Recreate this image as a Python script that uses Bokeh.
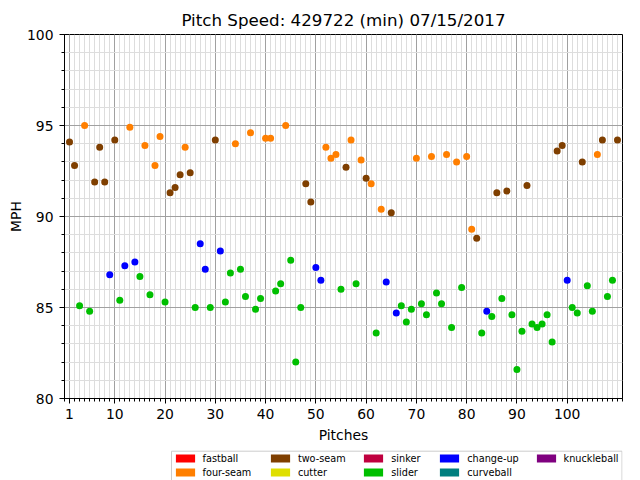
from bokeh.plotting import figure
from bokeh.models import Range1d, FixedTicker, Legend, LegendItem, BoxAnnotation
from bokeh.layouts import column
from bokeh.embed import file_html
from bokeh.resources import INLINE

# ---- data ----
two_seam_x = [1, 2, 6, 7, 8, 10, 21, 22, 23, 25, 30, 48, 49, 56, 60, 65, 82, 86, 88, 92, 98, 99, 103, 107, 110]
two_seam_y = [94.1, 92.8, 91.9, 93.8, 91.9, 94.2, 91.3, 91.6, 92.3, 92.4, 94.2, 91.8, 90.8, 92.7, 92.1, 90.2,
              88.8, 91.3, 91.4, 91.7, 93.6, 93.9, 93.0, 94.2, 94.2]

four_seam_x = [4, 13, 16, 18, 19, 24, 34, 37, 40, 41, 44, 52, 53, 54, 57, 59, 61, 63, 70, 73, 76, 78, 80, 81, 106]
four_seam_y = [95.0, 94.9, 93.9, 92.8, 94.4, 93.8, 94.0, 94.6, 94.3, 94.3, 95.0, 93.8, 93.2, 93.4, 94.2, 93.1,
               91.8, 90.4, 93.2, 93.3, 93.4, 93.0, 93.3, 89.3, 93.4]

change_up_x = [9, 12, 14, 27, 28, 31, 50, 51, 64, 66, 84, 100]
change_up_y = [86.8, 87.3, 87.5, 88.5, 87.1, 88.1, 87.2, 86.5, 86.4, 84.7, 84.8, 86.5]

slider_x = [3, 5, 11, 15, 17, 20, 26, 29, 32, 33, 35, 36, 38, 39, 42, 43, 45, 46, 47, 55, 58, 62, 67, 68, 69,
            71, 72, 74, 75, 77, 79, 83, 85, 87, 89, 90, 91, 93, 94, 95, 96, 97, 101, 102, 104, 105, 108, 109]
slider_y = [85.1, 84.8, 85.4, 86.7, 85.7, 85.3, 85.0, 85.0, 85.3, 86.9, 87.1, 85.6, 84.9, 85.5, 85.9, 86.3,
            87.6, 82.0, 85.0, 86.0, 86.3, 83.6, 85.1, 84.2, 84.9, 85.2, 84.6, 85.8, 85.2, 83.9, 86.1, 83.6,
            84.5, 85.5, 84.6, 81.6, 83.7, 84.1, 83.9, 84.1, 84.6, 83.1, 85.0, 84.7, 86.2, 84.8, 85.6, 86.5]

legend_names = ["fastball", "four-seam", "two-seam", "cutter", "sinker", "slider",
                "change-up", "curveball", "knuckleball"]
legend_colors = ["#ff0000", "#ff7f00", "#7f3f00", "#dfdf00", "#bf003f", "#00bf00",
                 "#0000ff", "#007f7f", "#7f007f"]

x_ticks = [1, 10, 20, 30, 40, 50, 60, 70, 80, 90, 100]
x_minor = list(range(0, 112))
y_ticks = [80, 85, 90, 95, 100]
y_minor = list(range(80, 101))

FONT = "DejaVu Sans"

p = figure(width=640, height=448, output_backend="svg", toolbar_location=None,
           x_range=Range1d(0, 111), y_range=Range1d(80, 100),
           title="Pitch Speed: 429722 (min) 07/15/2017",
           min_border_left=64, min_border_right=18, min_border_top=34, min_border_bottom=50)

p.title.align = "center"
p.title.text_font = FONT
p.title.text_font_size = "16.7px"
p.title.text_font_style = "normal"
p.title.text_color = "#000000"
p.title.standoff = 9

p.outline_line_color = "#000000"
p.outline_line_alpha = 1
p.outline_line_width = 1

p.xaxis.ticker = FixedTicker(ticks=x_ticks, minor_ticks=x_minor)
p.yaxis.ticker = FixedTicker(ticks=y_ticks, minor_ticks=y_minor)

for ax in (p.xaxis, p.yaxis):
    ax.axis_line_color = "#000000"
    ax.major_tick_line_color = "#000000"
    ax.minor_tick_line_color = "#000000"
    ax.major_tick_in = 0
    ax.major_tick_out = 5
    ax.minor_tick_in = 0
    ax.minor_tick_out = 3
    ax.major_label_text_font = FONT
    ax.major_label_text_font_size = "13.9px"
    ax.major_label_text_color = "#000000"
    ax.axis_label_text_font = FONT
    ax.axis_label_text_font_size = "13.9px"
    ax.axis_label_text_font_style = "normal"
    ax.axis_label_text_color = "#000000"

p.xaxis.axis_label = "Pitches"
p.yaxis.axis_label = "MPH"
p.xaxis.major_label_standoff = 5
p.yaxis.major_label_standoff = 6
p.xaxis.axis_label_standoff = 5
p.yaxis.axis_label_standoff = 0

for g in (p.xgrid, p.ygrid):
    g.grid_line_color = "#a0a0a0"
    g.grid_line_width = 1
    g.minor_grid_line_color = "#dddddd"
    g.minor_grid_line_width = 1
    g.level = "underlay"

sz = 7
p.scatter(two_seam_x, two_seam_y, size=sz, fill_color="#7f3f00", line_color=None)
p.scatter(four_seam_x, four_seam_y, size=sz, fill_color="#ff7f00", line_color=None)
p.scatter(change_up_x, change_up_y, size=sz, fill_color="#0000ff", line_color=None)
p.scatter(slider_x, slider_y, size=sz, fill_color="#00bf00", line_color=None)

# ---- legend strip below the plot (its data coordinates equal page pixels) ----
lf = figure(width=640, height=32, output_backend="svg", toolbar_location=None,
            x_range=Range1d(64, 622), y_range=Range1d(480, 448),
            x_axis_type=None, y_axis_type=None,
            min_border_left=64, min_border_right=18, min_border_top=0, min_border_bottom=0)
lf.outline_line_color = None
lf.xgrid.visible = False
lf.ygrid.visible = False

lf.add_layout(BoxAnnotation(left=171, right=621.5, top=450.7, bottom=490,
                            fill_color="#ffffff", fill_alpha=0.8,
                            line_color="#cccccc", line_width=1, line_alpha=1))

col_x = [108.6, 203.9, 297.3, 373.3, 469.6]
for ci, lx in enumerate(col_x):
    names = legend_names[2 * ci: 2 * ci + 2]
    cols = legend_colors[2 * ci: 2 * ci + 2]
    items = []
    for name, col in zip(names, cols):
        r = lf.quad(left=[-20], right=[-19], top=[-20], bottom=[-21], fill_color=col, line_color=None)
        items.append(LegendItem(label=name, renderers=[r]))
    ly = 2 if len(items) == 2 else 16
    lg = Legend(items=items, orientation="vertical", location=(lx, ly),
                margin=0, padding=0, spacing=2, label_standoff=6,
                glyph_width=24, glyph_height=10, label_height=12,
                label_text_font=FONT, label_text_font_size="9.7px",
                label_text_color="#000000",
                border_line_color=None, background_fill_alpha=0)
    lf.add_layout(lg, "center")

layout = column(p, lf, spacing=0)
open("out.html", "w").write(file_html(layout, INLINE))
